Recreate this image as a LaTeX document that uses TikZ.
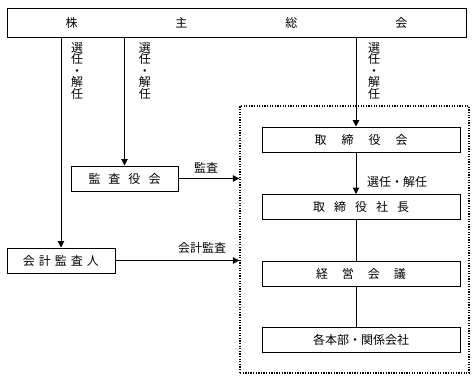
\documentclass[tikz,border=0pt]{standalone}
\usepackage{fontspec}
\setmainfont{Noto Sans CJK JP}
\usetikzlibrary{arrows.meta,positioning}

\begin{document}
\begin{tikzpicture}[x=1pt,y=-1pt,
  box/.style={draw,line width=1pt,minimum height=25pt,inner sep=0pt,font=\fontsize{12}{14}\selectfont},
  rbox/.style={box,minimum width=198pt},
  group/.style={draw,line width=1.3pt,dash pattern=on 1.3pt off 1.3pt,inner sep=0pt},
  arrow/.style={-{Triangle[length=6.5pt,width=6.5pt]},line width=1pt},
  link/.style={line width=1pt},
  lbl/.style={font=\fontsize{12}{14}\selectfont,inner sep=1pt},
  vlbl/.style={lbl,align=center,font=\fontsize{12}{11.5}\selectfont}
]
\useasboundingbox (0,0) rectangle (475,380);
% boxes
\node[box,minimum width=459pt,minimum height=29pt] (soukai) at (236.5,22.5) {株\hspace{98pt}主\hspace{98pt}総\hspace{98pt}会};
\node[box,minimum width=107pt] (kansayaku) at (124.5,178.5) {監\hspace{8pt}査\hspace{8pt}役\hspace{8pt}会};
\node[box,minimum width=108pt] (kaikei) at (61,260.5) {会\hspace{4pt}計\hspace{4pt}監\hspace{4pt}査\hspace{4pt}人};
\node[group,minimum width=229pt,minimum height=267pt] (keiei) at (354.5,239.5) {};
\node[rbox] (torikai) at (361,139.5) {取\hspace{15pt}締\hspace{15pt}役\hspace{15pt}会\hspace{12pt}};
\node[rbox] (shacho) at (361,207) {取\hspace{9pt}締\hspace{9pt}役\hspace{9pt}社\hspace{9pt}長\hspace{12pt}};
\node[rbox] (kaigi) at (361,274) {経\hspace{14pt}営\hspace{14pt}会\hspace{14pt}議\hspace{12pt}};
\node[rbox] (kakubu) at (361,340) {各本部・関係会社\hspace{12pt}};
\coordinate (spine) at (356,0);
% connectors
\draw[arrow] (soukai.south -| kaikei.north) -- (kaikei.north);
\draw[arrow] (soukai.south -| kansayaku.north) -- (kansayaku.north);
\draw[arrow] (soukai.south -| spine) -- (torikai.north -| spine);
\draw[arrow] (torikai.south -| spine) -- (shacho.north -| spine);
\draw[link] (shacho.south -| spine) -- (kaigi.north -| spine);
\draw[link] (kaigi.south -| spine) -- (kakubu.north -| spine);
\draw[arrow] (kansayaku.east) -- (kansayaku.east -| keiei.west);
\draw[arrow] (kaikei.east) -- (kaikei.east -| keiei.west);
% labels
\node[vlbl] (sen1) at (77,71) {選\\任\\・\\解\\任};
\node[vlbl] (sen2) at (145,71) {選\\任\\・\\解\\任};
\node[vlbl] (sen3) at (374,71) {選\\任\\・\\解\\任};
\node[lbl] (sen4) at (397,182) {選任・解任};
\node[lbl] (kansa) at (206,168) {監査};
\node[lbl] (kaikeikansa) at (202,248) {会計監査};
\end{tikzpicture}
\end{document}
